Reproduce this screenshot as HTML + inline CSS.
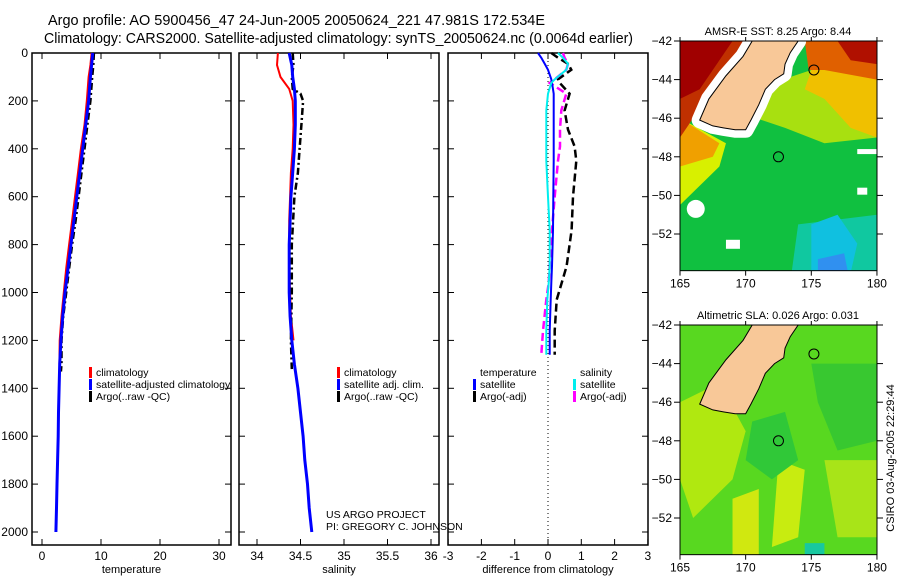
<!DOCTYPE html>
<html><head><meta charset="utf-8"><style>
body{margin:0;background:#fff;}
svg text{font-family:"Liberation Sans",sans-serif;}
</style></head><body>
<svg id="c" width="900" height="580" xmlns="http://www.w3.org/2000/svg">
<text x="48" y="25" font-size="14.5" textLength="497" lengthAdjust="spacingAndGlyphs">Argo profile: AO 5900456_47 24-Jun-2005 20050624_221 47.981S 172.534E</text>
<text x="44" y="43" font-size="14.5" textLength="589" lengthAdjust="spacingAndGlyphs">Climatology: CARS2000. Satellite-adjusted climatology: synTS_20050624.nc (0.0064d earlier)</text>
</svg>
<script>
// ---- data ----
const tempDepth=[0,50,100,200,300,400,500,600,700,800,900,1000,1100,1200,1300,1400,1500,1600,1700,1800,1900,2000];
const tempSat=[8.6,8.4,8.2,7.9,7.4,6.9,6.4,5.9,5.4,4.9,4.4,3.9,3.5,3.2,3.0,2.9,2.8,2.75,2.65,2.55,2.45,2.35];
const tempClim=[8.4,8.2,7.9,7.6,7.2,6.6,6.1,5.6,5.1,4.6,4.1,3.7,3.3,3.0,2.95];
const argoTempDepth=[0,50,100,200,300,400,500,600,700,800,900,1000,1100,1200,1300,1330];
const argoTemp=[8.8,8.7,8.5,8.2,7.7,7.2,6.7,6.2,5.7,5.1,4.6,4.1,3.6,3.3,3.3,3.2];
const salDepth=[0,50,100,150,200,300,400,500,600,700,800,900,1000,1100,1200,1300,1400,1500,1600,1700,1800,1900,2000];
const salSat=[34.37,34.40,34.41,34.43,34.44,34.44,34.43,34.41,34.39,34.38,34.37,34.37,34.37,34.38,34.40,34.43,34.47,34.50,34.53,34.55,34.58,34.60,34.63];
const salClim=[34.24,34.23,34.27,34.37,34.41,34.42,34.41,34.39,34.38,34.37,34.37,34.37,34.38,34.39,34.42];
const argoSalDepth=[0,50,100,150,170,200,300,400,500,600,800,1000,1200,1320];
const argoSal=[34.41,34.42,34.40,34.41,34.50,34.53,34.51,34.49,34.47,34.43,34.40,34.40,34.39,34.40];
const diffDepth=[0,20,45,70,110,125,170,240,320,390,450,600,740,890,960,1030,1160,1260];
const dTempSat=[-0.3,-0.2,-0.1,0,0.1,0.12,0.17,0.17,0.17,0.17,0.17,0.16,0.15,0.12,0.1,0.08,0.05,0.05];
const dTempArgo=[0.1,0.3,0.6,0.7,0.3,0.35,0.65,0.5,0.6,0.8,0.85,0.75,0.71,0.56,0.41,0.26,0.2,0.2];
const dSalSat=[0.3,0.45,0.6,0.55,0.2,0.1,0,-0.05,-0.05,-0.05,-0.05,0,0.05,0.05,0.02,-0.02,-0.05,-0.05];
const dSalArgo=[0.45,0.5,0.6,0.55,0.2,0.05,0.55,0.4,0.36,0.36,0.3,0.2,0.12,0.05,0.02,-0.05,-0.15,-0.2];
const depthTicks=[0,200,400,600,800,1000,1200,1400,1600,1800,2000];
const tempTicks=[0,10,20,30];
const salTicks=[34,34.5,35,35.5,36];
const diffTicks=[-3,-2,-1,0,1,2,3];
const latTicks=[-42,-44,-46,-48,-50,-52];
const lonTicks=[165,170,175,180];

const S=document.getElementById('c');const NS='http://www.w3.org/2000/svg';
function mk(t,a,p){const e=document.createElementNS(NS,t);for(const k in a)e.setAttribute(k,a[k]);(p||S).appendChild(e);return e;}
const Y=d=>53+d*0.2395;
function panel(x0,x1,xs,ticks,label,name,showY){
 const g=mk('g',{});
 mk('rect',{x:x0,y:53,width:x1-x0,height:492,fill:'none',stroke:'#000','stroke-width':1.5},g);
 ticks.forEach(t=>{const x=xs(t);
  mk('line',{x1:x,x2:x,y1:545,y2:539,stroke:'#000'},g);mk('line',{x1:x,x2:x,y1:53,y2:59,stroke:'#000'},g);
  const tx=mk('text',{x:x,y:560,'font-size':12,'text-anchor':'middle'},g);tx.textContent=String(t);});
 depthTicks.forEach(d=>{mk('line',{x1:x0,x2:x0+6,y1:Y(d),y2:Y(d),stroke:'#000'},g);mk('line',{x1:x1,x2:x1-6,y1:Y(d),y2:Y(d),stroke:'#000'},g);
  if(showY){const tx=mk('text',{x:x0-4,y:Y(d)+4,'font-size':12,'text-anchor':'end'},g);tx.textContent=d;}});
 const l=mk('text',{x:(x0+x1)/2,y:573,'font-size':11,'text-anchor':'middle'},g);l.textContent=label;
}
function line(xs,vals,deps,col,w,dash,name){
 const p=vals.map((v,i)=>xs(v).toFixed(1)+','+Y(deps[i]).toFixed(1)).join(' ');
 const e=mk('polyline',{points:p,fill:'none',stroke:col,'stroke-width':w});if(dash)e.setAttribute('stroke-dasharray',dash);
 
}
function legend(x,y,items){items.forEach((it,i)=>{mk('rect',{x:x,y:y+i*12-9,width:3,height:11,fill:it[1]});
 if(it[0]){const t=mk('text',{x:x+7,y:y+i*12,'font-size':10.5});t.textContent=it[0];}});}

const xT=v=>42+v*5.9;
panel(32,231,xT,tempTicks,'temperature','temperature-panel',true);
line(xT,tempClim,tempDepth,'#f00',2,null,'temp-climatology-line');
line(xT,argoTemp,argoTempDepth,'#000',2.5,'7,3,2,3','temp-argo-line');
line(xT,tempSat,tempDepth,'#00f',3,null,'temp-satellite-line');
legend(89,376,[['climatology','#f00'],['satellite-adjusted climatology','#00f'],['Argo(..raw -QC)','#000']]);

const xS=v=>257+(v-34)*87;
panel(239,439,xS,salTicks,'salinity','salinity-panel',false);
line(xS,salClim,salDepth,'#f00',2,null,'sal-climatology-line');
line(xS,argoSal,argoSalDepth,'#000',2.5,'7,3,2,3','sal-argo-line');
line(xS,salSat,salDepth,'#00f',3,null,'sal-satellite-line');
legend(337,376,[['climatology','#f00'],['satellite adj. clim.','#00f'],['Argo(..raw -QC)','#000']]);
const c1=mk('text',{x:326,y:518,'font-size':10.5});c1.textContent='US ARGO PROJECT';
const c2=mk('text',{x:326,y:530,'font-size':10.5});c2.textContent='PI: GREGORY C. JOHNSON';

const xD=v=>548+v*33.3;
panel(448,648,xD,diffTicks,'difference from climatology','difference-panel',false);
mk('line',{x1:xD(0),x2:xD(0),y1:53,y2:545,stroke:'#000','stroke-dasharray':'1,3'});
line(xD,dTempArgo,diffDepth,'#000',2.5,'8,4','diff-temp-argo-line');
line(xD,dSalArgo,diffDepth,'#f0f',2.5,'8,4','diff-sal-argo-line');
line(xD,dTempSat,diffDepth,'#00f',2,null,'diff-temp-sat-line');
line(xD,dSalSat,diffDepth,'#0ee',2,null,'diff-sal-sat-line');
legend(473,376,[['temperature','none'],['satellite','#00f'],['Argo(-adj)','#000']]);
legend(573,376,[['salinity','none'],['satellite','#0ee'],['Argo(-adj)','#f0f']]);

const land=[[166.5,-46.1],[167.2,-45.0],[168.5,-43.8],[169.8,-42.8],[170.5,-42],[174,-42],[173.4,-42.6],[173,-43.2],[172.9,-43.7],[172.2,-44],[171.5,-44.5],[171,-45.3],[170.4,-46.1],[170,-46.6],[169.2,-46.6],[168.3,-46.5],[167.5,-46.4]];
function map(top,title,name,sst){
 const X=l=>680+(l-165)*13.13, Yl=la=>top+(-42-la)*19.3;
 const g=mk('g',{});
 const bot=Yl(-53.9);
 const cp=mk('clipPath',{id:'cp'+name},g);mk('rect',{x:680,y:top,width:197,height:bot-top},cp);
 const m=mk('g',{'clip-path':'url(#cp'+name+')'},g);
 const poly=(pts,f)=>mk('polygon',{points:pts.map(p=>X(p[0])+','+Yl(p[1])).join(' '),fill:f},m);
 if(sst){
  mk('rect',{x:680,y:top,width:197,height:bot-top,fill:'#10c040'},m);
  poly([[174,-51.5],[180,-51],[180,-54],[173.5,-54]],'#10c8a0');
  poly([[175,-51.5],[177,-51],[178.5,-52.5],[178,-54],[175,-54]],'#10c0e0');
  poly([[175.5,-53.3],[177.5,-53],[177.8,-54],[175.5,-54]],'#3090f0');
  poly([[165,-46],[168.5,-47.3],[168,-48.5],[166.5,-49.5],[165,-50.5]],'#d8f000');
  poly([[165,-46],[168,-47.3],[167.5,-48],[165,-48.5]],'#f0a000');
  poly([[171.5,-44.3],[175,-43.5],[180,-43.5],[180,-47],[176,-47.3],[173,-46.5],[170.8,-46]],'#a8e010');
  poly([[175,-43.5],[180,-43.5],[180,-47],[178,-46.5],[176,-45],[174.5,-44.5]],'#f0c000');
  poly([[174.5,-42],[180,-42],[180,-44],[176,-43.5],[174.8,-43.5]],'#e06000');
  poly([[177,-42],[180,-42],[180,-43.2],[178,-43]],'#b01000');
  poly([[165,-42],[170,-42],[166.5,-45.5],[165,-47]],'#c03000');
  poly([[165,-42],[169,-42],[166.5,-44.5],[165,-45]],'#a00000');
  mk('polygon',{points:land.map(p=>X(p[0])+','+Yl(p[1])).join(' '),fill:'none',stroke:'#fff','stroke-width':16,'stroke-linejoin':'round'},m);
  mk('circle',{cx:X(166.2),cy:Yl(-50.7),r:9,fill:'#fff'},m);mk('rect',{x:X(168.5),y:Yl(-52.3),width:14,height:9,fill:'#fff'},m);
  mk('rect',{x:X(178.5),y:Yl(-49.6),width:10,height:7,fill:'#fff'},m);mk('rect',{x:X(178.5),y:Yl(-47.6),width:20,height:5,fill:'#fff'},m);
 } else {
  mk('rect',{x:680,y:top,width:197,height:bot-top,fill:'#58d820'},m);
  poly([[165,-46],[168,-45],[170,-47.5],[169,-50],[166,-52],[165,-50]],'#b0e810');
  poly([[172.5,-49],[174.5,-49.5],[174,-53],[172,-53.5]],'#c8ec10');
  poly([[169,-51],[171,-50.5],[171,-54],[169,-54]],'#d0e810');
  poly([[175,-44],[180,-44],[180,-48],[177,-48.5],[175.5,-46]],'#38c830');
  poly([[170.5,-47],[173,-46.5],[174,-49],[172,-50],[170,-49]],'#30c838');
  poly([[176,-49],[180,-49],[180,-53],[177,-53]],'#a8e418');
  poly([[174.5,-53.3],[176,-53.3],[176,-54],[174.5,-54]],'#18c8a0');
 }
 mk('polygon',{points:land.map(p=>X(p[0])+','+Yl(p[1])).join(' '),fill:'#f8c898',stroke:'#000','stroke-width':1},m);
 mk('circle',{cx:X(172.5),cy:Yl(-48),r:5,fill:'none',stroke:'#000'},m);
 mk('circle',{cx:X(175.2),cy:Yl(-43.5),r:5,fill:'none',stroke:'#000'},m);
 mk('rect',{x:680,y:top,width:197,height:bot-top,fill:'none',stroke:'#000'},g);
 const t=mk('text',{x:778,y:top-6,'font-size':11,'text-anchor':'middle'},g);t.textContent=title;
 latTicks.forEach(la=>{mk('line',{x1:674,x2:680,y1:Yl(la),y2:Yl(la),stroke:'#000'},g);mk('line',{x1:877,x2:883,y1:Yl(la),y2:Yl(la),stroke:'#000'},g);
  const tx=mk('text',{x:672,y:Yl(la)+4,'font-size':12,'text-anchor':'end'},g);tx.textContent=String(la).replace('-','\u2212');});
 lonTicks.forEach(lo=>{mk('line',{x1:X(lo),x2:X(lo),y1:bot,y2:bot+5,stroke:'#000'},g);mk('line',{x1:X(lo),x2:X(lo),y1:top,y2:top-4,stroke:'#000'},g);
  const tx=mk('text',{x:X(lo),y:bot+17,'font-size':12,'text-anchor':'middle'},g);tx.textContent=lo;});
}
map(41,'AMSR-E SST: 8.25 Argo: 8.44','sst-map',true);
map(325,'Altimetric SLA: 0.026 Argo: 0.031','sla-map',false);
const st=mk('text',{x:0,y:0,'font-size':11,'text-anchor':'middle',transform:'translate(894,458) rotate(-90)'});st.textContent='CSIRO 03-Aug-2005 22:29:44';


</script>
</body></html>
